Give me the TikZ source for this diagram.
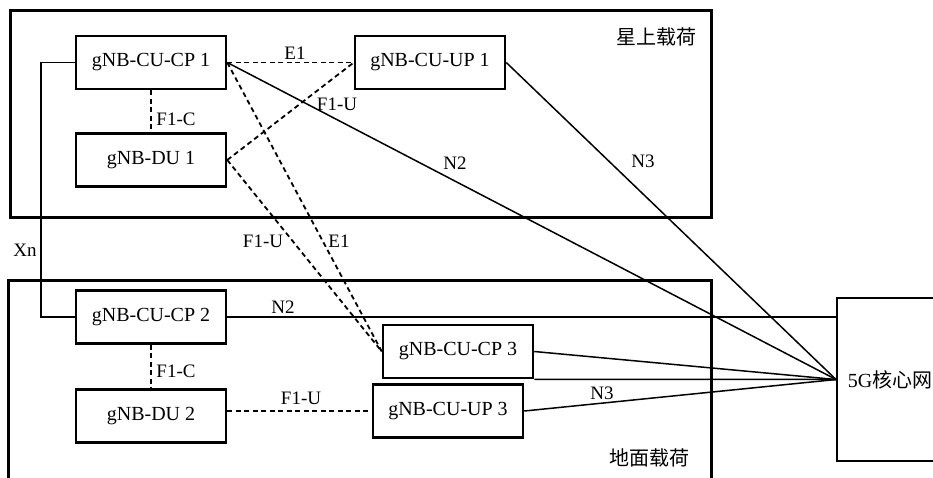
\documentclass[tikz,border=0pt]{standalone}
\usepackage{fontspec}
\setmainfont{Liberation Serif}
\newfontfamily\cjk{Noto Sans CJK SC}
\begin{document}
\begin{tikzpicture}[x=1pt,y=-1pt,
  box/.style={draw, line width=2.5pt, minimum width=150pt, minimum height=53pt, inner sep=0pt, font=\fontsize{20}{24}\selectfont},
  corebox/.style={draw, line width=2pt, minimum width=106pt, minimum height=163pt, inner sep=0pt, font=\fontsize{20}{24}\selectfont},
  region/.style={draw, line width=3pt},
  link/.style={line width=1.5pt},
  dlink/.style={line width=1.8pt, dash pattern=on 5pt off 3.5pt},
  lbl/.style={font=\fontsize{19}{22}\selectfont, inner sep=0pt},
  clbl/.style={font=\cjk\fontsize{20}{24}\selectfont, inner sep=0pt},
]
\useasboundingbox (0,0) rectangle (933,477);
\clip (0,0) rectangle (933,477);
\fill[white] (0,0) rectangle (933,477);
% regions
\draw[region] (10,10) rectangle (711,217);
\draw[region] (8,280) rectangle (711,500);
\node[clbl] (sat) at (656,37) {星上载荷};
\node[clbl] (gnd) at (649,458) {地面载荷};
% nodes
\node[box] (cp1) at (151,62.5) {gNB-CU-CP 1};
\node[box] (du1) at (151,160) {gNB-DU 1};
\node[box] (up1) at (430,62.5) {gNB-CU-UP 1};
\node[box] (cp2) at (151,317) {gNB-CU-CP 2};
\node[box] (du2) at (151,416) {gNB-DU 2};
\node[box] (cp3) at (458,351.5) {gNB-CU-CP 3};
\node[box] (up3) at (448,411) {gNB-CU-UP 3};
\node[corebox] (core) at (890,379.5) {5G{\cjk 核心网}};
% connectors
\draw[link] (cp1.west) -- ++(-34,0) |- (cp2.west);
\draw[dlink] (cp1.south) -- (du1.north);
\draw[dlink] (cp1.east) -- (up1.west);
\draw[dlink] (du1.east) -- (up1.west);
\draw[dlink] (cp1.east) -- (cp3.west);
\draw[dlink] (du1.east) -- (cp3.west);
\draw[link] (cp1.east) -- (core.west);
\draw[link] (up1.east) -- (core.west);
\draw[link] (cp2.east) -- (core.west |- cp2.east);
\draw[dlink] (cp2.south) -- (du2.north);
\draw[dlink] (du2.east |- up3.west) -- (up3.west);
\draw[link] (cp3.east) -- (core.west);
\draw[link] (cp3.south east) -- (core.west);
\draw[link] (up3.east) -- (core.west);
% labels
\node[lbl] (lxn) at (25,250) {Xn};
\node[lbl] (lf1c1) at (176,119) {F1-C};
\node[lbl] (le1a) at (295,53) {E1};
\node[lbl] (lf1u1) at (337,104) {F1-U};
\node[lbl] (ln2a) at (455,163) {N2};
\node[lbl] (ln3a) at (643,161) {N3};
\node[lbl] (lf1u2) at (263,241) {F1-U};
\node[lbl] (le1b) at (339,241) {E1};
\node[lbl] (ln2b) at (283,307) {N2};
\node[lbl] (lf1c2) at (176,371) {F1-C};
\node[lbl] (lf1u3) at (301,398) {F1-U};
\node[lbl] (ln3b) at (602,393) {N3};
\end{tikzpicture}
\end{document}
